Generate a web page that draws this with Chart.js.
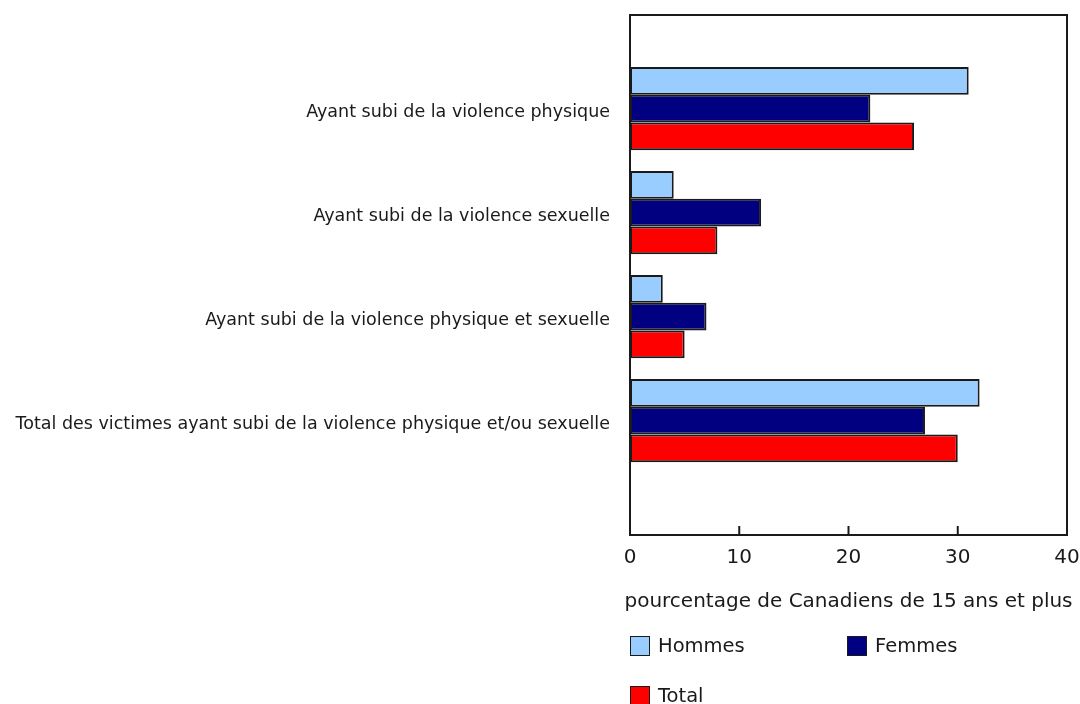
<!DOCTYPE html>
<html>
<head>
<meta charset="utf-8">
<script src="https://cdn.jsdelivr.net/npm/chart.js@4"></script>
<style>
  body { margin: 0; background: #fff; font-family: "DejaVu Sans", Verdana, sans-serif; color: #1a1a1a; }
  #wrap { position: relative; width: 1080px; height: 704px; }
  .leg { position: absolute; display: flex; align-items: center; font-size: 19.5px; }
  .leg span.box { width: 18px; height: 18px; border: 1.5px solid #1a1a1a; margin-right: 8px; }
</style>
</head>
<body>
<div id="wrap">
  <canvas id="chart" width="1080" height="704"></canvas>
</div>
<script>
var categories = [
  'Ayant subi de la violence physique',
  'Ayant subi de la violence sexuelle',
  'Ayant subi de la violence physique et sexuelle',
  'Total des victimes ayant subi de la violence physique et/ou sexuelle'
];
var seriesNames = ['Hommes', 'Femmes', 'Total'];
var hommes = [31, 4, 3, 32];
var femmes = [22, 12, 7, 27];
var total = [26, 8, 5, 30];
var xTicks = [0, 10, 20, 30, 40];
var xTitle = 'pourcentage de Canadiens de 15 ans et plus';

var colors = ['#99ccff', '#000080', '#ff0000'];
var ink = '#1a1a1a';
var font = 'DejaVu Sans';

function points(values) {
  return values.map(function (v, i) { return { x: v, y: i }; });
}

var series = [hommes, femmes, total];
var datasets = series.map(function (values, i) {
  return {
    label: seriesNames[i],
    data: points(values),
    backgroundColor: colors[i],
    borderColor: ink,
    borderWidth: 2,
    borderSkipped: false,
    categoryPercentage: 0.8,
    barPercentage: 1.0
  };
});

// box around the plot, small inner ticks on the bottom edge, and the x title
// (drawn here so it isn't squeezed to the width of the axis)
var framePlugin = {
  id: 'frame',
  afterDatasetsDraw: function (chart) {
    var ctx = chart.ctx;
    var a = chart.chartArea;
    var xs = chart.scales.x;
    ctx.save();
    ctx.strokeStyle = ink;
    ctx.lineWidth = 2;
    ctx.strokeRect(a.left, a.top, a.right - a.left, a.bottom - a.top);
    xs.ticks.forEach(function (t) {
      var px = xs.getPixelForValue(t.value);
      ctx.beginPath();
      ctx.moveTo(px, a.bottom);
      ctx.lineTo(px, a.bottom - 9);
      ctx.stroke();
    });
    ctx.fillStyle = ink;
    ctx.font = '20px "' + font + '"';
    ctx.textAlign = 'center';
    ctx.textBaseline = 'middle';
    ctx.fillText(xTitle, (xs.left + xs.right) / 2, xs.bottom - 12);
    ctx.restore();
  }
};

var ctx = document.getElementById('chart').getContext('2d');
var chart = new Chart(ctx, {
  type: 'bar',
  data: { datasets: datasets },
  options: {
    indexAxis: 'y',
    responsive: false,
    animation: false,
    layout: { padding: { left: 0, right: 13, top: 15, bottom: 90 } },
    plugins: { legend: { display: false }, tooltip: { enabled: false } },
    scales: {
      y: {
        type: 'linear',
        reverse: true,
        offset: false,
        min: -0.9,
        max: 4.1,
        grid: { display: false, drawTicks: false },
        border: { display: false },
        afterBuildTicks: function (scale) {
          scale.ticks = categories.map(function (c, i) { return { value: i }; });
        },
        afterFit: function (scale) {
          scale.width = 630;
          scale.paddingTop = 0;
          scale.paddingBottom = 0;
        },
        ticks: {
          autoSkip: false,
          padding: 20,
          labelOffset: 4,
          color: ink,
          font: { family: font, size: 17.5 },
          callback: function (v) { return categories[v]; }
        }
      },
      x: {
        type: 'linear',
        min: 0,
        max: 40,
        grid: { display: false, drawTicks: false },
        border: { display: false },
        afterBuildTicks: function (scale) {
          scale.ticks = xTicks.map(function (v) { return { value: v }; });
        },
        afterFit: function (scale) {
          scale.height = 79;
          scale.paddingLeft = 0;
          scale.paddingRight = 0;
        },
        ticks: {
          padding: 11,
          color: ink,
          maxRotation: 0,
          font: { family: font, size: 20 }
        }
      }
    }
  },
  plugins: [framePlugin]
});

// legend built from the same series names and colours
var legendPos = [[630, 634], [847, 634], [630, 684]];
var wrap = document.getElementById('wrap');
seriesNames.forEach(function (name, i) {
  var item = document.createElement('div');
  item.className = 'leg';
  item.style.left = legendPos[i][0] + 'px';
  item.style.top = legendPos[i][1] + 'px';
  var box = document.createElement('span');
  box.className = 'box';
  box.style.background = colors[i];
  item.appendChild(box);
  item.appendChild(document.createTextNode(name));
  wrap.appendChild(item);
});
</script>
</body>
</html>
